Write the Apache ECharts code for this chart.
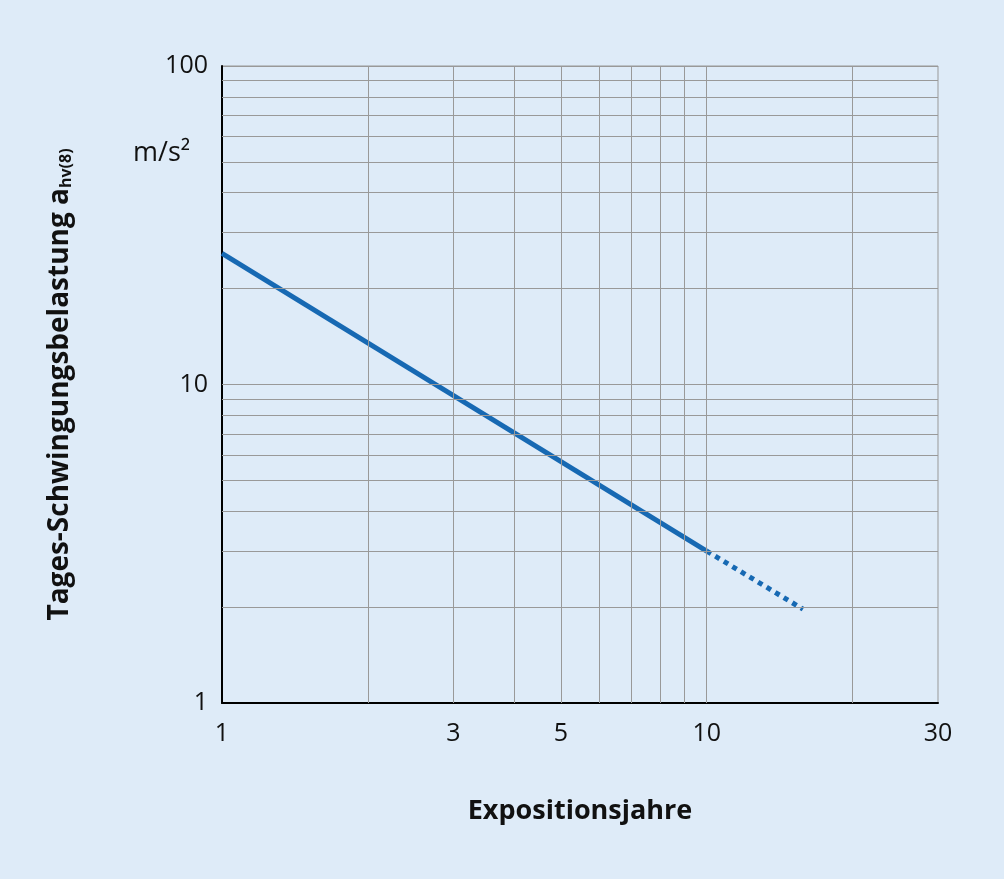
<!DOCTYPE html>
<html>
<head>
<meta charset="utf-8">
<script src="https://cdn.jsdelivr.net/npm/echarts@6/dist/echarts.min.js"></script>
<style>html,body{margin:0;background:#deebf8}#c{width:1004px;height:879px}</style>
</head>
<body>
<div id="c"></div>
<script>
var solidLine = [[1, 25.8], [10, 3.0]];
var dottedLine = [[10, 3.0], [15.8, 1.97]];
var gridX = [2, 3, 4, 5, 6, 7, 8, 9, 10, 20];
var gridY = [2, 3, 4, 5, 6, 7, 8, 9, 10, 20, 30, 40, 50, 60, 70, 80, 90];
var xLabels = [1, 3, 5, 10, 30];

var chart = echarts.init(document.getElementById('c'));
var font = 'Open Sans';

var gridLines = gridX.map(function (v) { return { xAxis: v }; })
    .concat(gridY.map(function (v) { return { yAxis: v }; }));
var labelLines = xLabels.map(function (v) {
    return {
        xAxis: v,
        label: {
            show: true, position: 'start', distance: 18, formatter: String(v),
            fontFamily: font, fontSize: 25, color: '#111'
        }
    };
});

var option = {
    backgroundColor: '#deebf8',
    grid: { left: 222, top: 66, width: 716, height: 637, show: true, borderColor: '#999', borderWidth: 1 },
    xAxis: {
        type: 'log', logBase: 10, min: 1, max: 30,
        name: 'Expositionsjahre', nameLocation: 'middle', nameGap: 95,
        nameTextStyle: { fontFamily: font, fontSize: 27, fontWeight: 'bold', color: '#111' },
        axisLine: { lineStyle: { color: '#000', width: 2 } },
        axisTick: { show: false },
        axisLabel: { show: false },
        splitLine: { show: false }
    },
    yAxis: {
        type: 'log', logBase: 10, min: 1, max: 100,
        name: '{b|Tages-Schwingungsbelastung a}{s|hv(8)}', nameLocation: 'middle', nameGap: 148, nameRotate: 90,
        nameTextStyle: {
            rich: {
                b: { fontFamily: font, fontSize: 28, fontWeight: 'bold', color: '#111' },
                s: { fontFamily: font, fontSize: 16, fontWeight: 'bold', color: '#111', verticalAlign: 'bottom', padding: [12, 0, 0, 0] }
            }
        },
        axisLine: { show: true, lineStyle: { color: '#000', width: 2 } },
        axisTick: { show: false },
        axisLabel: { fontFamily: font, fontSize: 25, color: '#111', margin: 14 },
        splitLine: { show: true, lineStyle: { color: '#999', width: 1 } }
    },
    graphic: [{
        type: 'text', left: 133, top: 140,
        style: { text: 'm/s²', fontFamily: font, fontSize: 27, fill: '#111' }
    }],
    series: [
        {
            type: 'line', data: [], silent: true,
            markLine: {
                symbol: 'none', silent: true, animation: false,
                lineStyle: { color: '#999', width: 1, type: 'solid' },
                label: { show: false },
                data: gridLines
            }
        },
        {
            type: 'line', data: [], silent: true,
            markLine: {
                symbol: 'none', silent: true, animation: false,
                lineStyle: { color: 'rgba(0,0,0,0)', width: 0 },
                data: labelLines
            }
        },
        {
            type: 'line', data: solidLine, symbol: 'none',
            lineStyle: { color: '#1769b3', width: 5 }
        },
        {
            type: 'line', data: dottedLine, symbol: 'none',
            lineStyle: { color: '#1769b3', width: 5, type: [5, 5] }
        }
    ]
};
chart.setOption(option);
</script>
</body>
</html>
